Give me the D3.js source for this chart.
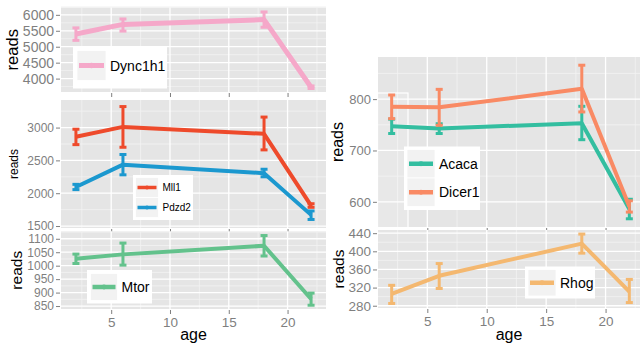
<!DOCTYPE html>
<html><head><meta charset="utf-8">
<script src="https://cdn.jsdelivr.net/npm/d3@7"></script>
<style>
body{margin:0;background:#fff}
svg{display:block}
text{font-family:"Liberation Sans",Arial,Helvetica,sans-serif}
</style>
</head><body>
<svg id="c" width="640" height="344"></svg>
<script>
// Ages sampled (x) and mean read counts with error-bar bounds per gene
const ages = [2, 6, 18, 22];
const xTicks = [5, 10, 15, 20];
const xMinor = [2.5, 7.5, 12.5, 17.5, 22.5];

const dync1h1 = [5400, 5700, 5850, 3730];
const dync1h1Lo = [5200, 5490, 5610, 3690];
const dync1h1Hi = [5590, 5870, 6090, 3770];

const mll1 = [2860, 3010, 2905, 1810];
const mll1Lo = [2740, 2700, 2660, 1785];
const mll1Hi = [2975, 3320, 3160, 1840];

const pdzd2 = [2095, 2435, 2305, 1670];
const pdzd2Lo = [2055, 2280, 2250, 1600];
const pdzd2Hi = [2135, 2590, 2365, 1730];

const mtor = [1026, 1042, 1074, 876];
const mtorLo = [1008, 1002, 1036, 853];
const mtorHi = [1043, 1084, 1112, 898];

const acaca = [747, 743, 753, 586];
const acacaLo = [733, 733, 721, 567];
const acacaHi = [761, 752, 786, 605];

const dicer1 = [785, 784, 820, 591];
const dicer1Lo = [762, 749, 775, 580];
const dicer1Hi = [808, 819, 866, 602];

const rhog = [306, 346, 417, 311];
const rhogLo = [285, 318, 396, 287];
const rhogHi = [325, 373, 438, 338];

const svg = d3.select("#c");
const GREY = "#7f7f7f";
const FONT = "Liberation Sans, Arial, sans-serif";

function rows(v, lo, hi) {
  return ages.map((a, i) => ({age: a, v: v[i], lo: lo[i], hi: hi[i]}));
}

function panel(o) {
  const g = svg.append("g");
  const x = d3.scaleLinear().domain(o.xDomain).range([o.x0, o.x1]);
  const y = d3.scaleLinear().domain(o.yDomain).range([o.y1, o.y0]);

  g.append("rect").attr("x", o.x0).attr("y", o.y0)
    .attr("width", o.x1 - o.x0).attr("height", o.y1 - o.y0).attr("fill", "#e5e5e5");

  // minor grid
  g.selectAll(null).data(xMinor).join("line")
    .attr("x1", d => x(d)).attr("x2", d => x(d)).attr("y1", o.y0).attr("y2", o.y1)
    .attr("stroke", "#f2f2f2").attr("stroke-width", 0.8);
  g.selectAll(null).data(o.yMinor).join("line")
    .attr("x1", o.x0).attr("x2", o.x1).attr("y1", d => y(d)).attr("y2", d => y(d))
    .attr("stroke", "#f2f2f2").attr("stroke-width", 0.8);
  // major grid
  g.selectAll(null).data(xTicks).join("line")
    .attr("x1", d => x(d)).attr("x2", d => x(d)).attr("y1", o.y0).attr("y2", o.y1)
    .attr("stroke", "#fff").attr("stroke-width", 1.3);
  g.selectAll(null).data(o.yTicks).join("line")
    .attr("x1", o.x0).attr("x2", o.x1).attr("y1", d => y(d)).attr("y2", d => y(d))
    .attr("stroke", "#fff").attr("stroke-width", 1.3);

  // y axis
  const ya = g.append("g").attr("transform", `translate(${o.x0 - 1},0)`)
    .call(d3.axisLeft(y).tickValues(o.yTicks).tickFormat(d3.format("d"))
      .tickSize(4).tickPadding(2).tickSizeOuter(0));
  ya.select(".domain").remove();
  ya.selectAll(".tick line").attr("stroke", GREY).attr("stroke-width", 1);
  ya.selectAll(".tick text").attr("fill", GREY).attr("font-size", o.yFont).attr("font-family", FONT);

  // x axis ticks (labels only on bottom panels)
  const xa = g.append("g").attr("transform", `translate(0,${o.y1 + 1})`)
    .call(d3.axisBottom(x).tickValues(xTicks).tickSize(4).tickPadding(3).tickSizeOuter(0)
      .tickFormat(o.xLabels ? d3.format("d") : () => ""));
  xa.select(".domain").remove();
  xa.selectAll(".tick line").attr("stroke", GREY).attr("stroke-width", 1);
  xa.selectAll(".tick text").attr("fill", GREY).attr("font-size", 13.5).attr("font-family", FONT);

  // y title
  g.append("text").attr("transform", `translate(${o.titleX},${(o.y0 + o.y1) / 2}) rotate(-90)`)
    .attr("text-anchor", "middle").attr("dominant-baseline", "central")
    .attr("font-size", o.titleFont).attr("fill", "#000").text("reads");

  if (o.xLabels) {
    g.append("text").attr("x", (o.x0 + Math.min(o.x1, 640)) / 2).attr("y", 340)
      .attr("text-anchor", "middle").attr("font-size", 16).attr("fill", "#000").text("age");
  }

  if (o.box) {
    g.append("rect").attr("x", o.box[0]).attr("y", o.box[1]).attr("width", o.box[2]).attr("height", o.box[3])
      .attr("fill", "#fff").attr("fill-opacity", 0.12).attr("stroke", "#fff").attr("stroke-width", 1.2);
  }

  // series: error bars + lines
  o.series.forEach(s => {
    const d = rows(s.v, s.lo, s.hi);
    const line = d3.line().x(p => x(p.age)).y(p => y(p.v));
    g.append("path").datum(d).attr("d", line).attr("fill", "none")
      .attr("stroke", s.color).attr("stroke-width", o.lw).attr("stroke-linejoin", "round");
    const eb = g.selectAll(null).data(d).join("g").attr("stroke", s.color).attr("stroke-width", 3);
    eb.append("line").attr("x1", p => x(p.age)).attr("x2", p => x(p.age))
      .attr("y1", p => y(p.lo)).attr("y2", p => y(p.hi));
    eb.append("line").attr("x1", p => x(p.age) - 3.5).attr("x2", p => x(p.age) + 3.5)
      .attr("y1", p => y(p.lo)).attr("y2", p => y(p.lo));
    eb.append("line").attr("x1", p => x(p.age) - 3.5).attr("x2", p => x(p.age) + 3.5)
      .attr("y1", p => y(p.hi)).attr("y2", p => y(p.hi));
  });

  // legend
  const L = o.legend;
  g.append("rect").attr("x", L.x).attr("y", L.y).attr("width", L.w).attr("height", L.h).attr("fill", "#fff");
  o.series.forEach((s, i) => {
    const ky = L.y + L.pad + i * L.key;
    g.append("rect").attr("x", L.x + L.pad).attr("y", ky).attr("width", L.keyW).attr("height", L.key)
      .attr("fill", "#f2f2f2").attr("stroke", "#fff").attr("stroke-width", 0.8);
    const cy = ky + L.key / 2;
    g.append("line").attr("x1", L.x + L.pad + 2).attr("x2", L.x + L.pad + L.keyW - 2)
      .attr("y1", cy).attr("y2", cy).attr("stroke", s.color).attr("stroke-width", L.lw);
    g.append("circle").attr("cx", L.x + L.pad + L.keyW / 2).attr("cy", cy).attr("r", L.lw * 0.55)
      .attr("fill", s.color);
    g.append("text").attr("x", L.x + L.pad + L.keyW + 4).attr("y", cy)
      .attr("dominant-baseline", "central").attr("font-size", L.font).attr("fill", "#000").text(s.name);
  });
}

const leftX = {x0: 61, x1: 326, xDomain: [0.73, 23.27]};
const rightX = {x0: 378, x1: 643, xDomain: [0.85, 23.15]};

panel({...leftX, y0: 7.5, y1: 92, yDomain: [3580, 6230],
  yTicks: [4000, 4500, 5000, 5500, 6000], yMinor: [3750, 4250, 4750, 5250, 5750, 6250],
  yFont: 14, titleX: 12, titleFont: 16.5, lw: 5, xLabels: false,
  series: [{name: "Dync1h1", color: "#f5a8c9", v: dync1h1, lo: dync1h1Lo, hi: dync1h1Hi}],
  legend: {x: 73, y: 46.5, w: 94, h: 42, pad: 4, key: 30, keyW: 29, lw: 5, font: 14}});

panel({...leftX, y0: 100, y1: 228, yDomain: [1470, 3420],
  yTicks: [1500, 2000, 2500, 3000], yMinor: [1750, 2250, 2750, 3250],
  yFont: 12, titleX: 14, titleFont: 12, lw: 4, xLabels: false,
  series: [
    {name: "Mll1", color: "#ee4a2b", v: mll1, lo: mll1Lo, hi: mll1Hi},
    {name: "Pdzd2", color: "#1b98cf", v: pdzd2, lo: pdzd2Lo, hi: pdzd2Hi}],
  legend: {x: 133, y: 175, w: 60, h: 45, pad: 2.5, key: 20, keyW: 23, lw: 3.5, font: 10}});

panel({...leftX, y0: 231.5, y1: 309, yDomain: [839, 1127],
  yTicks: [850, 900, 950, 1000, 1050, 1100], yMinor: [875, 925, 975, 1025, 1075, 1125],
  yFont: 12, titleX: 16, titleFont: 15.5, lw: 4, xLabels: true,
  series: [{name: "Mtor", color: "#63c28c", v: mtor, lo: mtorLo, hi: mtorHi}],
  legend: {x: 87, y: 270, w: 65, h: 33.5, pad: 3.5, key: 27, keyW: 27, lw: 4.5, font: 14}});

panel({...rightX, y0: 57, y1: 227, yDomain: [551, 882],
  yTicks: [600, 700, 800], yMinor: [650, 750, 850],
  yFont: 13, titleX: 337, titleFont: 16, lw: 4, xLabels: false,
  box: [377.5, 93, 30.5, 169],
  series: [
    {name: "Acaca", color: "#33bea0", v: acaca, lo: acacaLo, hi: acacaHi},
    {name: "Dicer1", color: "#f98a64", v: dicer1, lo: dicer1Lo, hi: dicer1Hi}],
  legend: {x: 404, y: 146.5, w: 76, h: 63.5, pad: 3, key: 28.5, keyW: 28, lw: 4.5, font: 14}});

panel({...rightX, y0: 230, y1: 308, yDomain: [275, 447],
  yTicks: [280, 320, 360, 400, 440], yMinor: [300, 340, 380, 420],
  yFont: 13.5, titleX: 338, titleFont: 15.5, lw: 4, xLabels: true,
  series: [{name: "Rhog", color: "#f4b870", v: rhog, lo: rhogLo, hi: rhogHi}],
  legend: {x: 525, y: 266.5, w: 70, h: 32, pad: 3, key: 26.5, keyW: 28, lw: 4.5, font: 14}});
</script>
</body></html>
